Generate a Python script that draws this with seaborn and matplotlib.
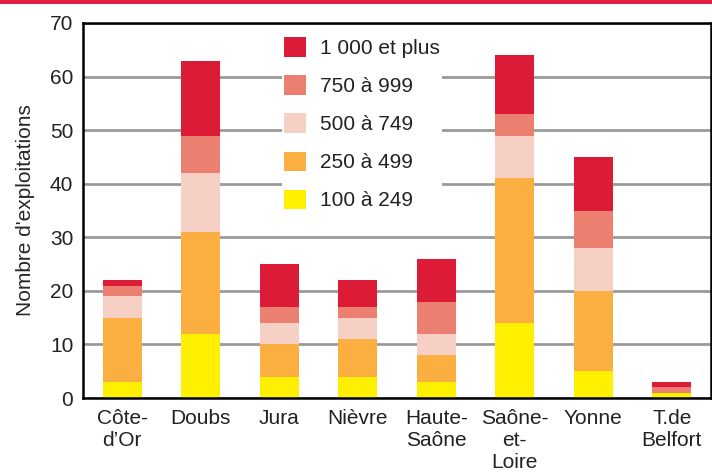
import matplotlib

matplotlib.use('Agg')
import matplotlib.pyplot as plt
import numpy as np
import pandas as pd
import seaborn as sns
from matplotlib.patches import Patch, Rectangle

departements = ['Côte-\nd’Or', 'Doubs', 'Jura', 'Nièvre', 'Haute-\nSaône',
                'Saône-\net-\nLoire', 'Yonne', 'T.de\nBelfort']
classes = ['100 à 249', '250 à 499', '500 à 749', '750 à 999', '1 000 et plus']
v_100_249 = [3, 12, 4, 4, 3, 14, 5, 1]
v_250_499 = [12, 19, 6, 7, 5, 27, 15, 0]
v_500_749 = [4, 11, 4, 4, 4, 8, 8, 0]
v_750_999 = [2, 7, 3, 2, 6, 4, 7, 1]
v_1000_plus = [1, 14, 8, 5, 8, 11, 10, 1]
colors = ['#FFF000', '#FBAF41', '#F7D0C5', '#EB8070', '#DC1B36']

df = pd.DataFrame({
    'departement': departements,
    classes[0]: v_100_249,
    classes[1]: v_250_499,
    classes[2]: v_500_749,
    classes[3]: v_750_999,
    classes[4]: v_1000_plus,
})
cum = df[classes].cumsum(axis=1)

sns.set_style('white')
plt.rcParams['font.family'] = ['Liberation Sans', 'DejaVu Sans']
plt.rcParams['text.color'] = '#222222'
plt.rcParams['xtick.color'] = '#111111'
plt.rcParams['ytick.color'] = '#111111'
plt.rcParams['xtick.labelcolor'] = '#222222'
plt.rcParams['ytick.labelcolor'] = '#222222'

fig = plt.figure(figsize=(7.12, 4.72), dpi=100)
ax = fig.add_axes([83 / 712, 1 - 398 / 472, 628 / 712, 375 / 472])

# stacked bars: draw cumulative totals from the top class down
for cls, col in reversed(list(zip(classes, colors))):
    sns.barplot(x=df['departement'], y=cum[cls], color=col, width=0.5,
                saturation=1, linewidth=0, edgecolor='none', ax=ax, zorder=2)

ax.set_ylim(0, 70)
ax.set_xlim(-0.5, len(departements) - 0.5)
ax.set_yticks(range(0, 71, 10))
ax.yaxis.grid(True, color='#9a9a9a', linewidth=2)
ax.set_axisbelow(True)
ax.set_xlabel('')
ax.set_ylabel("Nombre d'exploitations", fontsize=15, labelpad=11)

ax.set_xticks(np.arange(-0.5, len(departements), 1), minor=True)
ax.tick_params(axis='x', which='major', length=0, labelsize=15, pad=8)
ax.tick_params(axis='x', which='minor', length=5, width=1.5, direction='out')
ax.tick_params(axis='y', length=5, width=1.5, direction='out', labelsize=15, pad=2)
for lab in ax.get_xticklabels():
    lab.set_linespacing(1.2)
    lab.set_verticalalignment('top')

for side in ['left', 'right', 'top', 'bottom']:
    ax.spines[side].set_visible(True)
    ax.spines[side].set_color('black')
    ax.spines[side].set_linewidth(1.8)

handles = [Patch(facecolor=c, edgecolor='none') for c in reversed(colors)]
leg = ax.legend(handles, list(reversed(classes)), loc='upper left',
                bbox_to_anchor=(0.307, 0.984), fontsize=15, frameon=True,
                facecolor='white', edgecolor='none', framealpha=1,
                handlelength=1.05, handleheight=1.05, handletextpad=0.65,
                labelspacing=0.83, borderpad=0.1, borderaxespad=0.3)
leg.set_zorder(5)

fig.add_artist(Rectangle((0, 1 - 4 / 472), 1, 4 / 472, transform=fig.transFigure,
                         facecolor='#E31E44', edgecolor='none'))

fig.savefig('out.png', dpi=100)
plt.close(fig)
